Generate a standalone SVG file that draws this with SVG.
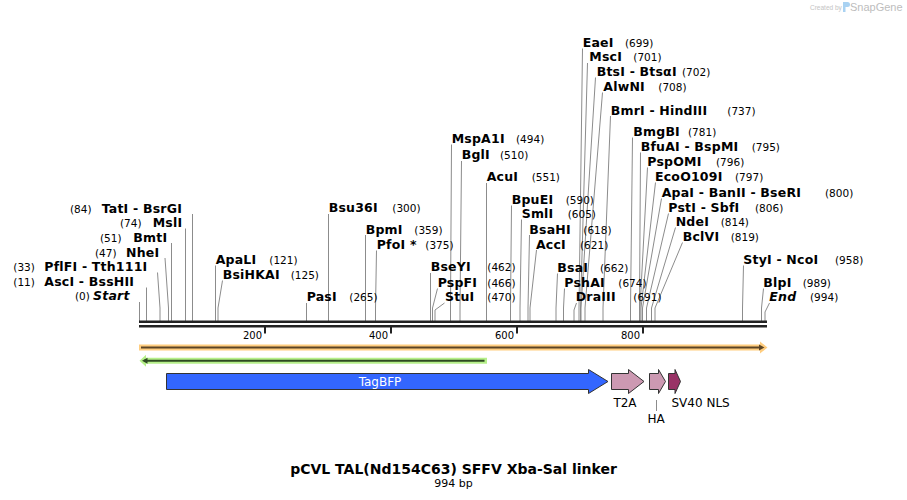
<svg xmlns="http://www.w3.org/2000/svg" width="907" height="500" viewBox="0 0 907 500">
<style>
text{font-family:"DejaVu Sans",Verdana,sans-serif;fill:#000}
.n{font-weight:bold;font-size:12.5px;letter-spacing:0.2px}
.i{font-style:italic}
.p{font-size:10.5px}
.t{font-size:10px}
.f{font-size:12px}
.cut{fill:none;stroke:#8c8c8c;stroke-width:1}
.feat{stroke:#333;stroke-width:1}
</style>
<rect width="907" height="500" fill="#fff"/>
<g id="logo">
<text x="810" y="10" style="font-family:'Liberation Sans',Arial,sans-serif;font-size:6.5px;fill:#c4c4c4">Created by</text>
<path d="M843 2h4.5a2 2 0 0 1 0 5h-2v5h-2.5z" fill="#a9d2f2"/>
<text x="850" y="11" style="font-family:'Liberation Sans',Arial,sans-serif;font-size:11px;fill:#bdbdbd">SnapGene</text>
</g>
<g id="connectors">
<path class="cut" d="M192.5 214V321M185.5 228.5V321M171.5 243V321M165 258L168.5 308V321M157.5 272.5L160 308V321M146.5 287.5V321M139.5 302V321"/>
<path class="cut" d="M215.5 265.5V321M222.5 280.5L218 308V321M306.5 303V321M328.5 214V321M365.5 235V321M376.5 250.5L375.5 308V321M430.5 273V321M437.5 288.5L432.5 308V321M444.5 303L435 310V321"/>
<path class="cut" d="M451.5 144.5L450.5 308V321M461.5 161L460 308V321M486.5 183V321M511.5 205.5L510.5 308V321M521.5 219.5L520 308V321M529.5 235L528 308V321M536.5 250L530 308V321"/>
<path class="cut" d="M582.5 48.5L579 308V321M587.5 63L580.5 308V321M595.5 77.5L581 308V321M602.5 92.5L585 308V321M610.5 116L603 308V321M557.5 273.5L556 308V321M564.5 288.5L563.5 308V321M576.5 303L574 310V321"/>
<path class="cut" d="M632.5 137.5L630.5 308V321M640.5 152.5L639.5 308V321M647.5 167.5L640 308V321M655.5 182.5L641 308V321M661.5 198.5L642.5 308V321M668.5 213.5L646.5 308V321M675.5 227.5L651.5 308V321M682.5 242.5L655 308V321M743.5 265.5L742.5 308V321M763.5 288.5L761.5 308V321M769.5 303L765 312V321"/>
</g>
<g id="sequence">
<rect x="139" y="320.5" width="628" height="2.5" fill="#222"/>
<rect x="139" y="325" width="628" height="2.5" fill="#222"/>
<path d="M265 327v6.5M391 327v6.5M517 327v6.5M643 327v6.5" stroke="#222" stroke-width="2"/>
<text class="t" x="262" y="338.5" text-anchor="end">200</text>
<text class="t" x="388" y="338.5" text-anchor="end">400</text>
<text class="t" x="514" y="338.5" text-anchor="end">600</text>
<text class="t" x="640" y="338.5" text-anchor="end">800</text>
</g>
<g id="feature-orange">
<polygon points="139,344.5 760,344.5 760,341.5 767.5,347.5 760,353.5 760,350.5 139,350.5" fill="#ffcd7f"/>
<line x1="141" y1="347.5" x2="761" y2="347.5" stroke="#5c4526" stroke-width="2"/>
<polygon points="759,344.5 764.5,347.5 759,350.5" fill="#5c4526"/>
</g>
<g id="feature-green">
<polygon points="487,357.7 146,357.7 146,354.7 139.5,360.7 146,366.7 146,363.7 487,363.7" fill="#b6f08a"/>
<line x1="144" y1="360.7" x2="484.5" y2="360.7" stroke="#2e4a22" stroke-width="2"/>
<polygon points="147.5,357.7 142,360.7 147.5,363.7" fill="#2e4a22"/>
</g>
<g id="TagBFP">
<polygon class="feat" points="166.5,373.5 588.5,373.5 588.5,369.5 608,381.5 588.5,393.5 588.5,389.5 166.5,389.5" fill="#3366ff"/>
<text class="f" x="380" y="385.5" text-anchor="middle" style="fill:#fff">TagBFP</text>
</g>
<g id="T2A">
<polygon class="feat" points="611.5,373.5 628.5,373.5 628.5,369.5 644,381.5 628.5,393.5 628.5,389.5 611.5,389.5" fill="#cc99b2"/>
<text class="f" x="625" y="407" text-anchor="middle">T2A</text>
</g>
<g id="HA">
<polygon class="feat" points="649.5,373.5 658.5,373.5 658.5,369.5 665.5,381.5 658.5,393.5 658.5,389.5 649.5,389.5" fill="#cc99b2"/>
<line x1="656.5" y1="400" x2="656.5" y2="411" stroke="#8c8c8c"/>
<text class="f" x="656" y="423" text-anchor="middle">HA</text>
</g>
<g id="SV40-NLS">
<polygon class="feat" points="668.5,373.5 675,373.5 675,369.5 680.5,381.5 675,393.5 675,389.5 668.5,389.5" fill="#993366"/>
<text class="f" x="671.5" y="407">SV40 NLS</text>
</g>
<g id="site-TatI"><text class="p" x="70" y="212.8">(84)</text><text class="n" x="101.7" y="212.8">TatI - BsrGI</text></g>
<g id="site-MslI"><text class="p" x="120" y="227.4">(74)</text><text class="n" x="152.7" y="227.4">MslI</text></g>
<g id="site-BmtI"><text class="p" x="100" y="242">(51)</text><text class="n" x="133.3" y="242">BmtI</text></g>
<g id="site-NheI"><text class="p" x="95" y="256.6">(47)</text><text class="n" x="126" y="256.6">NheI</text></g>
<g id="site-PflFI"><text class="p" x="13.3" y="271.2">(33)</text><text class="n" x="44.3" y="271.2">PflFI - Tth111I</text></g>
<g id="site-AscI"><text class="p" x="13.3" y="285.8">(11)</text><text class="n" x="44.3" y="285.8">AscI - BssHII</text></g>
<g id="site-Start"><text class="p" x="75" y="300.4">(0)</text><text class="n i" x="93" y="300.4">Start</text></g>
<g id="site-ApaLI"><text class="n" x="215.7" y="263.8">ApaLI</text><text class="p" x="269.3" y="263.8">(121)</text></g>
<g id="site-BsiHKAI"><text class="n" x="222.7" y="278.8">BsiHKAI</text><text class="p" x="290.7" y="278.8">(125)</text></g>
<g id="site-PasI"><text class="n" x="306.7" y="301.2">PasI</text><text class="p" x="349.3" y="301.2">(265)</text></g>
<g id="site-Bsu36I"><text class="n" x="328.7" y="212.2">Bsu36I</text><text class="p" x="392.3" y="212.2">(300)</text></g>
<g id="site-BpmI"><text class="n" x="365.7" y="233.5">BpmI</text><text class="p" x="414.3" y="233.5">(359)</text></g>
<g id="site-PfoI"><text class="n" x="376.7" y="248.8">PfoI *</text><text class="p" x="425.3" y="248.8">(375)</text></g>
<g id="site-BseYI"><text class="n" x="430.7" y="271.2">BseYI</text><text class="p" x="487.3" y="271.2">(462)</text></g>
<g id="site-PspFI"><text class="n" x="437.7" y="286.8">PspFI</text><text class="p" x="487.3" y="286.8">(466)</text></g>
<g id="site-StuI"><text class="n" x="445" y="301.2">StuI</text><text class="p" x="487.3" y="301.2">(470)</text></g>
<g id="site-MspA1I"><text class="n" x="451.7" y="142.8">MspA1I</text><text class="p" x="516" y="142.8">(494)</text></g>
<g id="site-BglI"><text class="n" x="461.7" y="159.3">BglI</text><text class="p" x="500" y="159.3">(510)</text></g>
<g id="site-AcuI"><text class="n" x="486.7" y="181.2">AcuI</text><text class="p" x="531.7" y="181.2">(551)</text></g>
<g id="site-BpuEI"><text class="n" x="511.7" y="203.8">BpuEI</text><text class="p" x="565.7" y="203.8">(590)</text></g>
<g id="site-SmlI"><text class="n" x="521.7" y="217.8">SmlI</text><text class="p" x="567.7" y="217.8">(605)</text></g>
<g id="site-BsaHI"><text class="n" x="529.3" y="233.5">BsaHI</text><text class="p" x="583.3" y="233.5">(618)</text></g>
<g id="site-AccI"><text class="n" x="536" y="248.5">AccI</text><text class="p" x="580" y="248.5">(621)</text></g>
<g id="site-BsaI"><text class="n" x="557.3" y="271.8">BsaI</text><text class="p" x="600" y="271.8">(662)</text></g>
<g id="site-PshAI"><text class="n" x="564.3" y="286.8">PshAI</text><text class="p" x="618.3" y="286.8">(674)</text></g>
<g id="site-DraIII"><text class="n" x="575.7" y="301.2">DraIII</text><text class="p" x="633.3" y="301.2">(691)</text></g>
<g id="site-EaeI"><text class="n" x="582.7" y="47.2">EaeI</text><text class="p" x="625" y="47.2">(699)</text></g>
<g id="site-MscI"><text class="n" x="589.3" y="61.2">MscI</text><text class="p" x="633.3" y="61.2">(701)</text></g>
<g id="site-BtsI"><text class="n" x="596.7" y="76.2">BtsI - BtsαI</text><text class="p" x="682" y="76.2">(702)</text></g>
<g id="site-AlwNI"><text class="n" x="603.3" y="91.2">AlwNI</text><text class="p" x="658.3" y="91.2">(708)</text></g>
<g id="site-BmrI"><text class="n" x="610.7" y="114.5">BmrI - HindIII</text><text class="p" x="727.3" y="114.5">(737)</text></g>
<g id="site-BmgBI"><text class="n" x="633.3" y="136.2">BmgBI</text><text class="p" x="688" y="136.2">(781)</text></g>
<g id="site-BfuAI"><text class="n" x="640.7" y="151.2">BfuAI - BspMI</text><text class="p" x="751.7" y="151.2">(795)</text></g>
<g id="site-PspOMI"><text class="n" x="647.3" y="166.2">PspOMI</text><text class="p" x="716" y="166.2">(796)</text></g>
<g id="site-EcoO109I"><text class="n" x="655" y="181.2">EcoO109I</text><text class="p" x="735" y="181.2">(797)</text></g>
<g id="site-ApaI"><text class="n" x="661.7" y="196.8">ApaI - BanII - BseRI</text><text class="p" x="825" y="196.8">(800)</text></g>
<g id="site-PstI"><text class="n" x="668.3" y="211.8">PstI - SbfI</text><text class="p" x="755" y="211.8">(806)</text></g>
<g id="site-NdeI"><text class="n" x="675.7" y="226.2">NdeI</text><text class="p" x="720.7" y="226.2">(814)</text></g>
<g id="site-BclVI"><text class="n" x="682.7" y="241.2">BclVI</text><text class="p" x="730.7" y="241.2">(819)</text></g>
<g id="site-StyI"><text class="n" x="743.3" y="263.8">StyI - NcoI</text><text class="p" x="835" y="263.8">(958)</text></g>
<g id="site-BlpI"><text class="n" x="763.3" y="287.2">BlpI</text><text class="p" x="802.7" y="287.2">(989)</text></g>
<g id="site-End"><text class="n i" x="769.3" y="301.2">End</text><text class="p" x="810" y="301.2">(994)</text></g>
<g id="title">
<text x="453.5" y="474" text-anchor="middle" style="font-weight:bold;font-size:14px">pCVL TAL(Nd154C63) SFFV Xba-Sal linker</text>
<text x="453.5" y="487" text-anchor="middle" style="font-size:11px">994 bp</text>
</g>
</svg>
